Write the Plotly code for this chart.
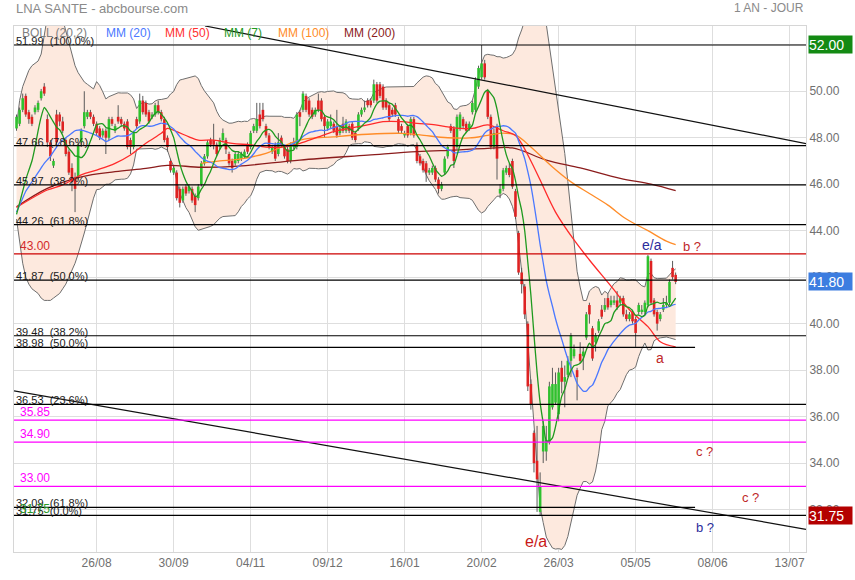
import plotly.graph_objects as go
import pandas as pd

# ---------------- data ----------------
title_text = "LNA SANTE - abcbourse.com"
period_text = "1 AN - JOUR"
tick_idx = [0, 25, 50, 75, 100, 125, 150, 175, 200, 225]
tick_labels = ["26/08", "30/09", "04/11", "09/12", "16/01", "20/02", "26/03", "05/05", "08/06", "13/07"]
y_ticks = [32, 34, 36, 38, 40, 42, 44, 46, 48, 50, 52]
first_idx = -26

open_ = [48.4, 48.6, 49.2, 49.8, 49.1, 48.9, 49.1, 49.2, 49.7, 50.2, 48.8, 47.8, 46.8, 49.0, 49.0, 48.7, 47.9, 47.4, 46.7, 46.3,
         46.3, 47.8, 48.5, 48.9, 49.1, 48.9,
         48.6, 48.4, 48.1, 48.3, 48.0, 48.8, 48.3, 48.9, 48.8, 48.6, 48.7, 47.9, 47.6, 48.8, 48.7, 49.6, 49.5, 49.1, 48.9, 49.0,
         49.4, 49.1, 48.8, 48.0, 47.0, 46.5, 46.5, 45.8, 45.3, 45.9, 45.7, 45.8, 45.5, 45.4, 46.0, 46.9, 47.2, 47.9, 47.9, 47.7,
         47.6, 47.9, 47.9, 47.3, 47.0, 46.9, 47.0, 47.1, 47.2, 47.7, 47.6, 48.3, 48.3, 49.0, 49.2, 48.5, 48.1, 47.4, 47.7, 47.3,
         48.0, 47.6, 47.5, 47.0, 47.6, 47.6, 49.1, 49.2, 49.8, 49.6, 49.2, 49.0, 49.6, 49.6, 48.9, 48.4, 48.5, 48.6, 48.5, 48.2,
         48.6, 48.3, 48.5, 48.6, 48.2, 48.4, 49.0, 49.2, 49.6, 49.6, 49.6, 50.3, 50.3, 50.2, 49.6, 49.4, 49.2, 49.4, 48.8, 48.5,
         48.1, 48.5, 48.2, 48.8, 47.7, 47.2, 47.0, 46.9, 46.5, 46.5, 46.7, 46.2, 45.8, 46.5, 47.2, 48.5, 48.4, 47.6, 48.4, 48.8,
         48.6, 48.4, 49.1, 49.2, 50.2, 50.6, 51.2, 50.0, 48.9, 47.6, 48.5, 45.6, 45.8, 46.5, 46.7, 47.0, 45.7, 43.9, 42.2, 41.6,
         40.0, 37.4, 35.3, 34.1, 31.9, 34.5, 34.5, 34.9, 36.4, 36.6, 36.1, 38.1, 37.5, 37.8, 38.4, 38.6, 38.0, 38.7, 38.6, 39.4,
         40.8, 39.8, 39.2, 39.7, 40.6, 40.6, 41.1, 40.8, 40.9, 41.0, 40.9, 41.1, 40.4, 40.2, 40.5, 40.2, 40.5, 40.5, 40.5, 40.8,
         42.7, 41.0, 40.5, 40.2, 40.6, 40.8, 40.9, 42.4, 42.1]
high = [49.0, 49.3, 49.9, 49.9, 49.2, 49.0, 49.4, 49.6, 50.1, 50.35, 49.0, 47.9, 47.1, 49.2, 49.1, 48.9, 48.0, 47.5, 46.9, 46.5,
        47.8, 48.4, 50.0, 49.2, 49.2, 49.0,
        48.7, 48.5, 48.4, 48.4, 48.9, 48.9, 48.6, 49.4, 48.9, 48.7, 48.8, 48.0, 48.3, 48.9, 49.9, 49.8, 49.6, 49.2, 49.1, 49.5,
        49.6, 49.2, 48.9, 48.1, 47.1, 46.8, 46.6, 45.9, 45.9, 46.0, 46.0, 45.9, 45.6, 46.0, 47.0, 47.3, 47.9, 48.0, 48.6, 47.8,
        48.0, 48.4, 48.0, 47.4, 47.1, 47.4, 47.4, 47.4, 47.5, 47.8, 48.3, 48.6, 49.5, 49.5, 49.5, 48.6, 48.2, 47.7, 47.8, 48.2,
        48.1, 47.7, 47.6, 47.8, 48.0, 49.1, 49.2, 50.0, 49.9, 49.7, 49.3, 49.3, 49.9, 49.7, 49.0, 48.8, 49.0, 48.7, 49.2, 48.5,
        48.9, 48.8, 48.6, 48.7, 48.3, 49.1, 49.3, 49.6, 49.7, 49.7, 50.5, 50.4, 50.4, 50.3, 49.7, 49.5, 49.3, 49.5, 48.9, 48.6,
        48.3, 48.6, 48.9, 48.9, 47.8, 47.3, 47.1, 47.0, 46.7, 46.8, 46.8, 46.3, 46.1, 47.2, 47.7, 48.6, 48.5, 49.0, 49.1, 48.9,
        48.7, 48.7, 49.6, 50.6, 51.1, 51.99, 51.35, 50.1, 49.0, 48.4, 48.6, 46.0, 46.7, 46.8, 46.9, 47.1, 45.8, 44.0, 42.4, 41.7,
        40.1, 37.6, 35.4, 35.6, 33.6, 35.8, 35.6, 37.5, 38.1, 37.9, 38.1, 38.4, 38.2, 38.6, 39.6, 39.1, 38.1, 39.2, 39.0, 40.5,
        40.9, 39.9, 39.6, 40.2, 40.8, 41.1, 41.3, 41.2, 41.2, 41.4, 41.2, 41.2, 40.6, 40.5, 40.6, 40.3, 40.9, 40.8, 41.0, 42.96,
        42.8, 41.1, 40.6, 40.5, 41.1, 41.2, 41.9, 42.7, 42.2]
low = [48.3, 48.5, 49.1, 48.9, 48.6, 48.5, 49.0, 49.1, 49.6, 49.8, 47.6, 47.0, 46.7, 47.6, 48.5, 48.2, 47.2, 46.4, 45.7, 44.8,
       46.2, 47.6, 48.4, 48.8, 48.8, 48.5,
       48.1, 47.9, 48.0, 47.3, 47.9, 48.5, 48.2, 48.6, 48.5, 48.3, 47.5, 47.3, 47.5, 48.4, 48.6, 49.0, 48.9, 48.6, 48.8, 48.9,
       49.0, 48.7, 47.8, 47.4, 46.5, 46.4, 45.3, 45.0, 45.2, 45.5, 45.6, 45.2, 44.8, 45.3, 45.9, 46.8, 47.1, 47.6, 47.5, 47.2,
       47.5, 47.8, 47.3, 46.8, 46.5, 46.8, 46.9, 47.0, 47.1, 47.3, 47.5, 48.2, 48.2, 48.4, 48.7, 48.0, 47.5, 47.3, 47.0, 47.2,
       47.6, 47.1, 46.9, 46.9, 47.5, 47.5, 48.5, 49.1, 49.1, 48.9, 48.8, 48.9, 49.1, 48.7, 48.0, 48.3, 48.4, 48.2, 48.0, 48.1,
       48.2, 48.2, 48.2, 47.9, 47.8, 48.3, 48.9, 49.1, 49.3, 49.3, 49.5, 49.5, 49.7, 49.2, 49.2, 48.7, 48.9, 48.9, 48.2, 48.2,
       48.0, 48.0, 48.1, 48.0, 46.9, 46.8, 46.5, 46.1, 46.4, 46.4, 46.1, 45.6, 45.7, 46.4, 47.1, 48.2, 46.7, 47.5, 48.3, 48.4,
       48.2, 48.3, 49.0, 49.1, 50.1, 50.5, 50.5, 48.8, 47.5, 47.5, 46.2, 45.4, 45.7, 46.4, 46.3, 45.8, 44.5, 42.1, 41.3, 40.2,
       37.1, 36.3, 33.6, 31.9, 31.75, 34.0, 34.1, 34.8, 36.3, 36.5, 35.8, 37.0, 36.4, 37.7, 37.7, 38.5, 36.7, 38.3, 38.0, 39.3,
       40.0, 38.4, 38.8, 39.6, 40.2, 40.5, 40.6, 40.7, 40.8, 40.6, 40.8, 40.3, 40.1, 40.1, 40.0, 39.0, 40.4, 40.4, 40.4, 40.7,
       40.8, 40.3, 39.7, 40.1, 40.5, 40.7, 40.8, 41.9, 41.7]
close = [48.9, 49.2, 49.7, 49.0, 48.8, 48.6, 49.3, 49.5, 50.0, 49.9, 47.8, 47.2, 47.0, 47.8, 48.7, 48.3, 47.3, 46.5, 46.1, 45.8,
         47.7, 48.3, 49.1, 49.1, 48.9, 48.6,
         48.2, 48.0, 48.3, 48.0, 48.8, 48.6, 48.5, 48.7, 48.6, 48.4, 47.6, 47.6, 48.2, 48.5, 49.6, 49.1, 49.0, 48.7, 49.0, 49.4,
         49.1, 48.8, 47.9, 47.6, 46.6, 46.7, 45.4, 45.2, 45.8, 45.6, 45.9, 45.3, 45.1, 45.9, 46.9, 47.2, 47.8, 47.7, 47.7, 47.3,
         47.9, 48.2, 47.5, 46.9, 46.7, 47.3, 47.3, 47.3, 47.4, 47.4, 48.2, 48.5, 48.8, 48.5, 48.8, 48.1, 47.6, 47.6, 47.1, 47.8,
         47.7, 47.2, 47.0, 47.7, 47.8, 49.0, 48.9, 49.9, 49.2, 49.0, 48.9, 49.2, 49.2, 48.8, 48.5, 48.7, 48.7, 48.3, 48.1, 48.4,
         48.3, 48.7, 48.3, 48.0, 47.9, 49.0, 49.2, 49.3, 49.4, 49.4, 50.3, 49.6, 49.8, 49.3, 49.3, 48.8, 49.0, 49.0, 48.3, 48.3,
         48.2, 48.1, 48.8, 48.1, 47.0, 46.9, 46.6, 46.5, 46.6, 46.7, 46.2, 45.8, 46.0, 47.1, 47.6, 48.3, 47.0, 48.9, 49.0, 48.5,
         48.3, 48.6, 49.5, 50.5, 51.0, 51.2, 50.6, 48.9, 47.6, 48.2, 47.1, 45.8, 46.6, 46.7, 46.4, 45.9, 44.6, 42.2, 41.7, 40.4,
         37.3, 36.5, 34.0, 33.3, 33.0, 35.6, 35.0, 37.3, 37.4, 37.4, 37.9, 37.5, 37.7, 38.4, 39.5, 38.9, 37.7, 38.4, 38.8, 40.4,
         40.4, 38.5, 39.5, 40.1, 40.3, 40.8, 40.7, 41.0, 41.0, 40.7, 41.1, 40.4, 40.2, 40.4, 40.1, 39.6, 40.8, 40.6, 40.9, 42.9,
         40.9, 40.4, 40.0, 40.4, 40.8, 40.9, 41.8, 42.0, 41.8]

# indicator values read from the picture where the history is not visible
mm7_head = [44.7, 45.2, 45.7, 46.2, 46.6, 47.0, 47.6, 48.3, 48.9, 49.3]
mm20_head = [44.8, 45.1, 45.4, 45.7, 45.9, 46.1, 46.3, 46.5, 46.7, 46.9, 47.05, 47.2, 47.4, 47.6, 47.8, 47.9,
             48.0, 48.1, 48.2, 48.3, 48.33, 48.33, 48.3, 48.25, 48.2, 48.15]
boll_up_head = [48.5, 49.6, 50.2, 50.6, 50.9, 51.1, 51.2, 51.3, 51.6, 52.4, 53.2, 53.6, 53.8, 53.8, 53.5, 53.1,
                52.6, 52.1, 51.5, 51.1, 50.8, 50.6, 50.4, 50.3, 50.2, 50.1]
boll_lo_head = [44.5, 43.5, 42.6, 42.0, 41.7, 41.5, 41.4, 41.3, 41.1, 41.0, 41.0, 41.0, 41.1, 41.2, 41.3, 41.5,
                41.7, 42.0, 42.3, 42.6, 43.0, 43.4, 43.9, 44.4, 44.9, 45.4]

mm50_x = [-26, -16, -11, -5, 0, 6, 11, 16, 21, 23, 26, 30, 33, 38, 44, 50, 55, 61, 66, 72, 77, 82, 88, 93, 99,
          104, 110, 114, 118, 122, 127, 132, 136, 138, 141, 144, 149, 155, 160, 168, 173, 179, 183, 188]
mm50_y = [45.0, 45.75, 45.97, 46.4, 46.61, 46.9, 47.26, 47.76, 48.19, 48.4, 48.26, 48.04, 47.9, 47.9, 47.76, 47.69,
          47.6, 47.61, 47.76, 48.04, 48.26, 48.4, 48.55, 48.69, 48.69, 48.62, 48.55, 48.47, 48.4, 48.4, 48.55, 48.3,
          48.1, 47.75, 47.0, 46.18, 44.8, 43.6, 42.74, 41.45, 40.6, 39.87, 39.22, 39.0]
mm100_x = [34, 40, 46, 55, 66, 77, 88, 99, 105, 114, 121, 127, 132, 136, 141, 148, 154, 160, 166, 172, 179, 185, 188]
mm100_y = [46.9, 47.0, 47.07, 47.33, 47.9, 48.04, 48.15, 48.19, 48.12, 48.0, 47.99, 48.1, 48.2, 48.12, 47.6, 46.74,
           46.1, 45.6, 45.1, 44.5, 44.0, 43.55, 43.4]
mm200_x = [-26, -16, -5, 6, 16, 23, 34, 46, 66, 88, 104, 116, 127, 135, 146, 157, 170, 180, 188]
mm200_y = [45.03, 45.82, 46.32, 46.54, 46.68, 46.81, 46.73, 46.78, 47.04, 47.25, 47.4, 47.47, 47.54, 47.56, 47.04,
           46.7, 46.25, 46.0, 45.72]

fib_levels = [51.99, 47.66, 45.97, 44.26, 41.87, 39.48, 38.98, 36.53, 32.09, 31.75]
fib_pcts = ["100.0%", "78.6%", "38.2%", "61.8%", "50.0%", "38.2%", "50.0%", "23.6%", "61.8%", "0.0%"]
fib_short = [False, False, False, False, False, False, True, False, True, False]
short_end_idx = 194.3
red_level = 43.00
magenta_levels = [35.85, 34.90, 33.00]
green_level = 31.75

trend_a_x = [35.2, 230.32]
trend_a_y = [52.81, 47.75]
trend_b_x = [-26.82, 230.32]
trend_b_y = [37.11, 31.15]

wave_labels = [("e/a", 180.3, 43.38, "#2c2c9c", 14), ("b ?", 193.2, 43.3, "#c0282a", 13),
               ("a", 182.8, 38.54, "#c0282a", 14), ("c ?", 197.5, 34.48, "#c0282a", 13),
               ("c ?", 212.3, 32.54, "#c0282a", 13), ("b ?", 197.5, 31.21, "#2c2c9c", 13),
               ("e/a", 142.5, 30.62, "#c81818", 16)]

legend_items = [("BOLL (20,2)", "#808080", 20), ("MM (20)", "#4a78ff", 104), ("MM (50)", "#ff3030", 163),
                ("MM (7)", "#1f9a1f", 222), ("MM (100)", "#ff8c28", 276), ("MM (200)", "#8b1c1c", 342)]

price_boxes = [(52.00, "52.00", "#138a13"), (41.80, "41.80", "#3c7de0"), (31.75, "31.75", "#b40000")]

# ---------------- derived ----------------
FONT = "Liberation Sans, Arial, sans-serif"
n = len(close)
xs = list(range(first_idx, first_idx + n))
s = pd.Series(close)
mm7 = s.rolling(7).mean().tolist()
mm7[:len(mm7_head)] = mm7_head
mm20 = s.rolling(20).mean()
sd20 = s.rolling(20).std(ddof=0)
up = (mm20 + 2 * sd20).tolist()
lo = (mm20 - 2 * sd20).tolist()
mm20 = mm20.tolist()
h = len(mm20_head)
mm20[:h] = mm20_head
up[:h] = boll_up_head
lo[:h] = boll_lo_head

X0, X1 = -26.82, 230.32
Y0, Y1 = 30.174, 52.808

fig = go.Figure()
# Bollinger band
fig.add_trace(go.Scatter(x=xs, y=up, mode="lines", line=dict(color="#6e6e6e", width=1), hoverinfo="skip"))
fig.add_trace(go.Scatter(x=xs, y=lo, mode="lines", line=dict(color="#6e6e6e", width=1), fill="tonexty",
                         fillcolor="#fde9de", hoverinfo="skip"))

# wicks
wx, wy = [], []
for i, x in enumerate(xs):
    wx += [x, x, None]
    wy += [low[i], high[i], None]
fig.add_trace(go.Scatter(x=wx, y=wy, mode="lines", line=dict(color="#5a5a5a", width=1), hoverinfo="skip"))
# bodies (thick vertical segments)
gx, gy, rx, ry = [], [], [], []
for i, x in enumerate(xs):
    o, c = open_[i], close[i]
    lo_b, hi_b = min(o, c), max(o, c)
    if hi_b - lo_b < 0.05:
        lo_b, hi_b = lo_b - 0.025, hi_b + 0.025
    if c >= o:
        gx += [x, x, None]
        gy += [lo_b, hi_b, None]
    else:
        rx += [x, x, None]
        ry += [lo_b, hi_b, None]
fig.add_trace(go.Scatter(x=gx, y=gy, mode="lines", line=dict(color="#2ec12e", width=2.6), hoverinfo="skip"))
fig.add_trace(go.Scatter(x=rx, y=ry, mode="lines", line=dict(color="#de2222", width=2.6), hoverinfo="skip"))

# moving averages
fig.add_trace(go.Scatter(x=mm200_x, y=mm200_y, mode="lines", line=dict(color="#8b1c1c", width=1.3, shape="spline")))
fig.add_trace(go.Scatter(x=mm100_x, y=mm100_y, mode="lines", line=dict(color="#ff8c28", width=1.3, shape="spline")))
fig.add_trace(go.Scatter(x=mm50_x, y=mm50_y, mode="lines", line=dict(color="#ff2a2a", width=1.3, shape="spline")))
fig.add_trace(go.Scatter(x=xs, y=mm20, mode="lines", line=dict(color="#4a78ff", width=1.3, shape="spline", smoothing=0.6)))
fig.add_trace(go.Scatter(x=xs, y=mm7, mode="lines", line=dict(color="#1f9a1f", width=1.3, shape="spline", smoothing=0.6)))

# trend lines
fig.add_trace(go.Scatter(x=trend_a_x, y=trend_a_y, mode="lines", line=dict(color="#111111", width=1.2)))
fig.add_trace(go.Scatter(x=trend_b_x, y=trend_b_y, mode="lines", line=dict(color="#111111", width=1.2)))

shapes = []
annotations = []
# fib levels
for lvl, pct, short in zip(fib_levels, fib_pcts, fib_short):
    if short:
        shapes.append(dict(type="line", xref="x", yref="y", x0=X0, x1=short_end_idx, y0=lvl, y1=lvl,
                           line=dict(color="#000000", width=1.2), layer="above"))
    else:
        shapes.append(dict(type="line", xref="paper", yref="y", x0=0, x1=1, y0=lvl, y1=lvl,
                           line=dict(color="#000000", width=1.2), layer="above"))
    annotations.append(dict(xref="paper", yref="y", x=0, y=lvl, xanchor="left", yanchor="bottom",
                            text=f"{lvl:.2f}\u00a0\u00a0({pct})", showarrow=False, yshift=-4,
                            font=dict(family=FONT, size=11, color="#1a1a1a")))
# red level
shapes.append(dict(type="line", xref="paper", yref="y", x0=0, x1=1, y0=red_level, y1=red_level,
                   line=dict(color="#cc0000", width=1.2), layer="above"))
annotations.append(dict(xref="paper", yref="y", x=0, y=red_level, xanchor="left", yanchor="bottom", xshift=4,
                        text=f"{red_level:.2f}", showarrow=False, yshift=-1,
                        font=dict(family=FONT, size=12, color="#d42a2a")))
for lvl in magenta_levels:
    shapes.append(dict(type="line", xref="paper", yref="y", x0=0, x1=1, y0=lvl, y1=lvl,
                       line=dict(color="#ff00ff", width=1.2), layer="above"))
    annotations.append(dict(xref="paper", yref="y", x=0, y=lvl, xanchor="left", yanchor="bottom", xshift=4,
                            text=f"{lvl:.2f}", showarrow=False, yshift=-1,
                            font=dict(family=FONT, size=12, color="#ff00ff")))
annotations.append(dict(xref="paper", yref="y", x=0, y=green_level, xanchor="left", yanchor="bottom", xshift=4,
                        text=f"{green_level:.2f}", showarrow=False, yshift=-3,
                        font=dict(family=FONT, size=12, color="#2a9a2a")))

for txt, x, y, col, sz in wave_labels:
    annotations.append(dict(xref="x", yref="y", x=x, y=y, text=txt, showarrow=False,
                            font=dict(family=FONT, size=sz, color=col)))

for txt, col, px in legend_items:
    annotations.append(dict(xref="paper", yref="paper", x=(px - 14) / 792, y=1 - 7 / 526, xanchor="left",
                            yanchor="middle", text=txt, showarrow=False,
                            font=dict(family=FONT, size=12, color=col)))

annotations.append(dict(xref="paper", yref="paper", x=0, y=1 + 17.5 / 526, xanchor="left", yanchor="middle",
                        text=title_text, showarrow=False, font=dict(family=FONT, size=13, color="#8a8a8a")))
annotations.append(dict(xref="paper", yref="paper", x=1, y=1 + 17.5 / 526, xanchor="right", yanchor="middle",
                        text=period_text, showarrow=False, font=dict(family=FONT, size=12, color="#8a8a8a")))

for val, txt, col in price_boxes:
    annotations.append(dict(xref="paper", yref="y", x=1, xshift=2, y=val, xanchor="left", yanchor="middle",
                            text=txt, showarrow=False, bgcolor=col, width=43, height=17, align="left",
                            borderpad=0, font=dict(family=FONT, size=14, color="#ffffff")))

fig.update_layout(
    width=855, height=580,
    margin=dict(l=14, r=49, t=26, b=28, autoexpand=False),
    plot_bgcolor="#ffffff", paper_bgcolor="#ffffff",
    showlegend=False,
    shapes=shapes, annotations=annotations,
    xaxis=dict(range=[X0, X1], tickvals=tick_idx, ticktext=tick_labels, showgrid=True, gridcolor="#dedede",
               gridwidth=1, zeroline=False, showline=True, linecolor="#d6d6d6", mirror=True, ticks="",
               automargin=False, tickfont=dict(family=FONT, size=12, color="#707070")),
    yaxis=dict(range=[Y0, Y1], side="right", tickvals=y_ticks, tickformat=".2f", showgrid=True,
               gridcolor="#dedede", gridwidth=1, zeroline=False, showline=True, linecolor="#d6d6d6",
               mirror=True, ticks="", automargin=False, tickfont=dict(family=FONT, size=12, color="#707070")),
)

fig.write_html("out.html", config={"displayModeBar": False, "staticPlot": True},
               post_script="document.body.style.margin='0';document.body.style.overflow='hidden';")
